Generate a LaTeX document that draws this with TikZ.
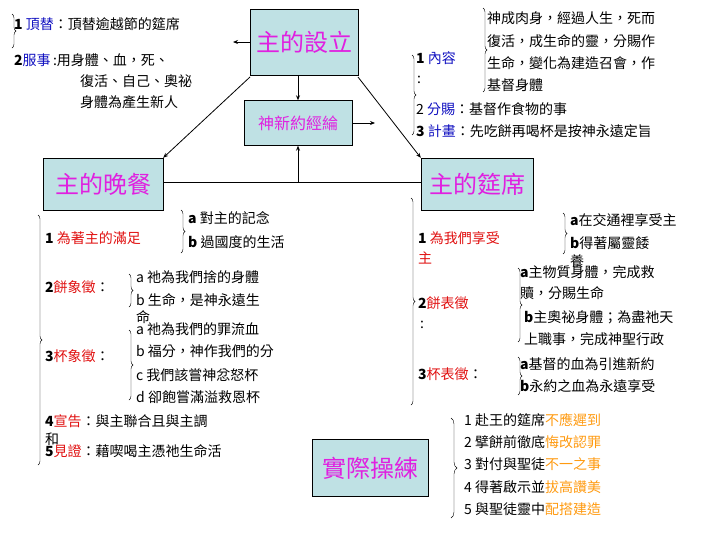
\documentclass[tikz,border=0pt]{standalone}
\usepackage{fontspec}
\setmainfont{Noto Sans CJK TC}
\usetikzlibrary{decorations.pathreplacing,arrows.meta}
\definecolor{boxfill}{HTML}{BFE1E4}
\definecolor{mag}{HTML}{E020E0}
\definecolor{bl}{HTML}{1010C0}
\definecolor{rd}{HTML}{E01010}
\definecolor{og}{HTML}{FF9A10}
\begin{document}
\begin{tikzpicture}[x=1pt,y=-1pt,
  box/.style={draw=black,fill=boxfill,text=mag,inner sep=0pt,font=\fontsize{24}{26}\selectfont},
  t/.style={anchor=west,inner sep=0pt,font=\fontsize{14}{16}\selectfont},
  br/.style={decorate,decoration={brace,amplitude=4pt}},
  arr/.style={-{Stealth[length=5pt,width=4pt]},line width=0.8pt}]
\useasboundingbox (0,0) rectangle (728,546);
\node[box,minimum width=108,minimum height=66] (est) at (304,42) {主的設立};
\node[box,minimum width=108,minimum height=45,font=\fontsize{16}{18}\selectfont] (eco) at (298,123) {神新約經綸};
\node[box,minimum width=120,minimum height=52] (sup) at (103,184) {主的晚餐};
\node[box,minimum width=112,minimum height=52] (tab) at (477,184) {主的筵席};
\node[box,minimum width=116,minimum height=57] (pra) at (370,468) {實際操練};
\coordinate (l1) at (233,42);
\coordinate (r1) at (375,123);
\coordinate (mid) at (298,182);
\draw[arr] (est.west) -- (l1);
\draw[arr] (est.south -| eco.north) -- (eco.north);
\draw[arr] (eco.east) -- (r1);
\draw[line width=1pt] (sup.east |- mid) -- (tab.west |- mid);
\draw[arr] (mid) -- (eco.south);
\draw[arr] (250,77) -- (sup.north east);
\draw[arr] (358,77) -- (tab.north west);
% top left
\draw[br] (12,14) -- (12,48);
\node[t] (a1) at (14,24) {\textbf{1} \textcolor{bl}{頂替}：頂替逾越節的筵席};
\node[t] (a2) at (14,60) {\textbf{2}\textcolor{bl}{服事}\,:用身體、血，死、};
\node[t] (a3) at (80,81) {復活、自己、奧祕};
\node[t] (a4) at (80,102) {身體為產生新人};
% top right
\draw[br] (412,55) -- (412,135);
\node[t] (b1) at (416,58) {\textbf{1} \textcolor{bl}{內容}};
\node[t] (b1c) at (417,80) {:};
\draw[br] (483,8) -- (483,92);
\node[t] (c1) at (487,18) {神成肉身，經過人生，死而};
\node[t] (c2) at (487,41) {復活，成生命的靈，分賜作};
\node[t] (c3) at (487,63) {生命，變化為建造召會，作};
\node[t] (c4) at (487,85) {基督身體};
\node[t] (b2) at (416,109) {2 \textcolor{bl}{分賜}：基督作食物的事};
\node[t] (b3) at (416,131) {\textbf{3} \textcolor{bl}{計畫}：先吃餅再喝杯是按神永遠定旨};
% lower left
\draw[br] (38,215) -- (38,465);
\node[t] (d1) at (45,238) {\textbf{1} \textcolor{rd}{為著主的滿足}};
\draw[br] (181,210) -- (181,253);
\node[t] (d1a) at (188,218) {\textbf{a} 對主的記念};
\node[t] (d1b) at (188,242) {\textbf{b} 過國度的生活};
\node[t] (d2) at (45,287) {\textbf{2}\textcolor{rd}{餅象徵}：};
\draw[br] (129,274) -- (129,307);
\node[t] (d2a) at (136,277) {a 祂為我們捨的身體};
\node[t] (d2b) at (136,300) {b 生命，是神永遠生};
\node[t] (d2c) at (136,317) {命};
\node[t] (d3) at (45,356) {\textbf{3}\textcolor{rd}{杯象徵}：};
\draw[br] (129,330) -- (129,400);
\node[t] (d3a) at (136,329) {a 祂為我們的罪流血};
\node[t] (d3b) at (136,351) {b 福分，神作我們的分};
\node[t] (d3c) at (136,375) {c 我們該嘗神忿怒杯};
\node[t] (d3d) at (136,397) {d 卻飽嘗滿溢救恩杯};
\node[t] (d4) at (45,421) {\textbf{4}\textcolor{rd}{宣告}：與主聯合且與主調};
\node[t] (d4b) at (45,439) {和};
\node[t] (d5) at (45,451) {\textbf{5}\textcolor{rd}{見證}：藉喫喝主憑祂生命活};
% lower right
\draw[br] (411,198) -- (411,405);
\node[t] (e1) at (418,238) {\textbf{1} \textcolor{rd}{為我們享受}};
\node[t] (e1b) at (418,258) {\textcolor{rd}{主}};
\draw[br] (563,213) -- (563,254);
\node[t] (e1x) at (570,220) {\textbf{a}在交通裡享受主};
\node[t] (e1y) at (570,243) {\textbf{b}得著屬靈餧};
\node[t] (e1z) at (570,261) {養};
\node[t] (e2) at (418,303) {\textbf{2}\textcolor{rd}{餅表徵}};
\node[t] (e2c) at (420,325) {:};
\draw[br] (518,268) -- (518,342);
\node[t] (e2a) at (520,272) {\textbf{a}主物質身體，完成救};
\node[t] (e2a2) at (520,293) {贖，分賜生命};
\node[t] (e2b) at (524,317) {\textbf{b}主奧祕身體；為盡祂天};
\node[t] (e2b2) at (524,339) {上職事，完成神聖行政};
\node[t] (e3) at (418,374) {\textbf{3}\textcolor{rd}{杯表徵}：};
\draw[br] (518,357) -- (518,395);
\node[t] (e3a) at (520,364) {\textbf{a}基督的血為引進新約};
\node[t] (e3b) at (520,386) {\textbf{b}永約之血為永遠享受};
% practice
\draw[br,decoration={amplitude=6pt}] (451,418) -- (451,518);
\node[t] (p1) at (464,420) {1 赴王的筵席\textcolor{og}{不應遲到}};
\node[t] (p2) at (464,442) {2 擘餅前徹底\textcolor{og}{悔改認罪}};
\node[t] (p3) at (464,464) {3 對付與聖徒\textcolor{og}{不一之事}};
\node[t] (p4) at (464,487) {4 得著啟示並\textcolor{og}{拔高讚美}};
\node[t] (p5) at (464,509) {5 與聖徒靈中\textcolor{og}{配搭建造}};
\end{tikzpicture}
\end{document}
